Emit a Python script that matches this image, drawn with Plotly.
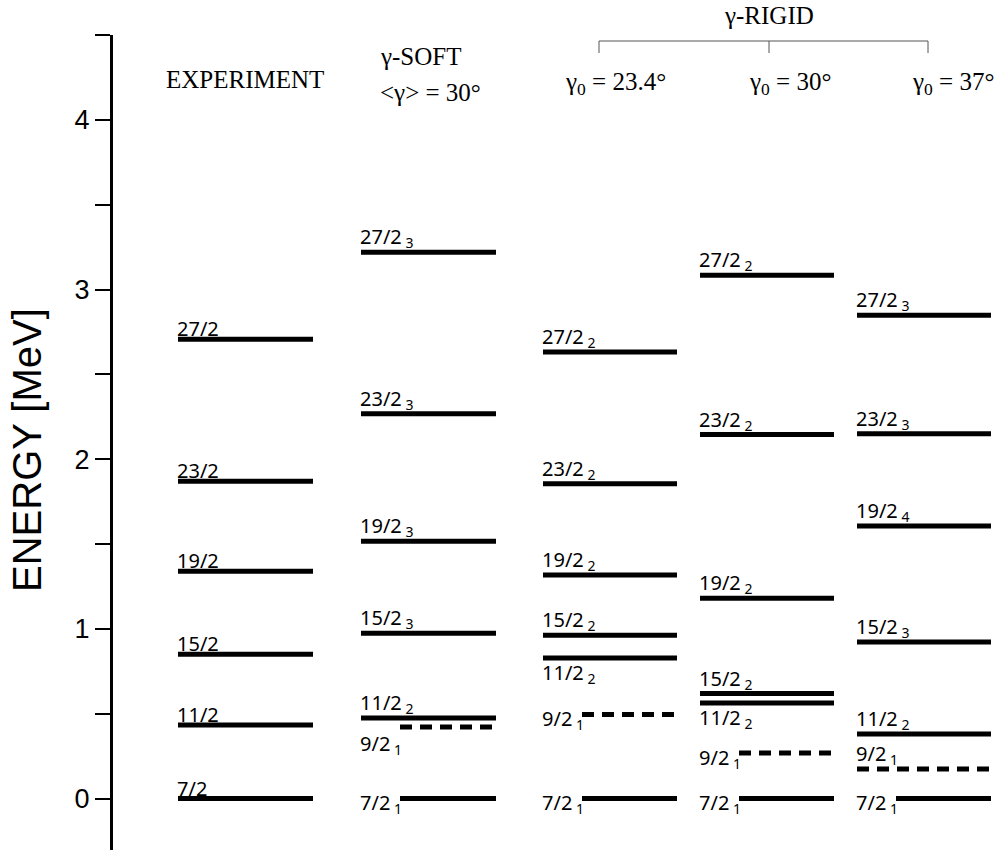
import plotly.graph_objects as go

# ---------------- data ----------------
level_labels = ["7/2", "9/2", "11/2", "15/2", "19/2", "23/2", "27/2"]

exp_labels = ["7/2", "11/2", "15/2", "19/2", "23/2", "27/2"]
exp_E = [0.0, 0.433, 0.851, 1.340, 1.870, 2.708]

soft_sub = ["1", "1", "2", "3", "3", "3", "3"]
soft_E = [0.0, 0.421, 0.474, 0.975, 1.517, 2.269, 3.220]

r234_sub = ["1", "1", "2", "2", "2", "2", "2"]
r234_E = [0.0, 0.495, 0.828, 0.963, 1.317, 1.856, 2.633]

r30_sub = ["1", "1", "2", "2", "2", "2", "2"]
r30_E = [0.0, 0.268, 0.563, 0.619, 1.181, 2.146, 3.085]

r37_sub = ["1", "1", "2", "3", "4", "3", "3"]
r37_E = [0.0, 0.174, 0.380, 0.922, 1.606, 2.151, 2.849]

dashed_levels = ["9/2"]

y_ticks = [0, 0.5, 1, 1.5, 2, 2.5, 3, 3.5, 4, 4.5]
y_ticktext = ["0", "", "1", "", "2", "", "3", "", "4", ""]

# ---------------- layout helpers (pixel-like x axis) ----------------
PX_PER_MEV = 169.7
Y0_PX = 798.5
TOP_PX, BOT_PX = 35, 850
def e_of(px):
    return (Y0_PX - px) / PX_PER_MEV
def paper_y(px):
    return (BOT_PX - px) / (BOT_PX - TOP_PX)
def paper_x(px):
    return (px - 113) / (996 - 113)

col_x = {"EXP": (178, 313), "SOFT": (361, 496), "R234": (543, 677),
         "R30": (700, 834), "R37": (857, 991)}

place = {
    "SOFT": {"7/2": "inline", "9/2": "below_inline"},
    "R234": {"7/2": "inline", "9/2": "inline", "11/2": "below"},
    "R30": {"7/2": "inline", "9/2": "inline", "11/2": "below"},
    "R37": {"7/2": "inline"},
}
INLINE_GAP = 39
LABEL_FONT = dict(family="Noto Sans, DejaVu Sans", size=20, color="black")

fig = go.Figure()
annotations = []

def add_column(key, labels, energies, subs):
    x0, x1 = col_x[key]
    sx, sy, dx, dy = [], [], [], []
    for i, (lab, e) in enumerate(zip(labels, energies)):
        p = place.get(key, {}).get(lab, "above")
        lx0 = x0 + INLINE_GAP if p in ("inline", "below_inline") else x0
        if lab in dashed_levels:
            dx += [lx0, x1, None]; dy += [e, e, None]
        else:
            sx += [lx0, x1, None]; sy += [e, e, None]
        text = lab if subs is None else f"{lab}<sub> {subs[i]}</sub>"
        if p == "above":
            ann = dict(yanchor="bottom", yshift=(-4 if subs is None else -1))
        elif p == "below":
            ann = dict(yanchor="top", yshift=0)
        elif p == "inline":
            ann = dict(yanchor="middle", yshift=-5)
        else:  # below_inline
            ann = dict(yanchor="top", yshift=-2)
        annotations.append(dict(x=x0 - 2, y=e, xref="x", yref="y", text=text,
                                showarrow=False, xanchor="left", font=LABEL_FONT,
                                borderpad=0, **ann))
    if sx:
        fig.add_trace(go.Scatter(x=sx, y=sy, mode="lines", hoverinfo="skip",
                                 line=dict(color="black", width=5), showlegend=False))
    if dx:
        fig.add_trace(go.Scatter(x=dx, y=dy, mode="lines", hoverinfo="skip",
                                 line=dict(color="black", width=5, dash="12px,8px"),
                                 showlegend=False))

add_column("EXP", exp_labels, exp_E, None)
add_column("SOFT", level_labels, soft_E, soft_sub)
add_column("R234", level_labels, r234_E, r234_sub)
add_column("R30", level_labels, r30_E, r30_sub)
add_column("R37", level_labels, r37_E, r37_sub)

SERIF = dict(family="Liberation Serif, Times New Roman", size=25, color="black")
headers = [
    ("EXPERIMENT", 245, 79, "center"),
    ("γ-SOFT", 378, 57, "left"),
    ("&lt;γ&gt; = 30°", 378, 92, "left"),
    ("γ-RIGID", 769, 16, "center"),
    ("γ<sub>0</sub> = 23.4°", 563, 84, "left"),
    ("γ<sub>0</sub> = 30°", 747, 84, "left"),
    ("γ<sub>0</sub> = 37°", 910, 84, "left"),
]
for t, x, ypx, xa in headers:
    annotations.append(dict(x=x, y=paper_y(ypx), xref="x", yref="paper", text=t,
                            showarrow=False, xanchor=xa, yanchor="middle", font=SERIF))

annotations.append(dict(x=paper_x(27), y=paper_y(450), xref="paper", yref="paper",
                        text="ENERGY [MeV]", showarrow=False, textangle=-90,
                        xanchor="center", yanchor="middle",
                        font=dict(family="Liberation Sans, Arial", size=40, color="black")))

# bracket for gamma-rigid
br = dict(color="#555555", width=1)
shapes = [
    dict(type="line", xref="x", yref="paper", x0=599, x1=928, y0=paper_y(41), y1=paper_y(41), line=br),
    dict(type="line", xref="x", yref="paper", x0=599, x1=599, y0=paper_y(41), y1=paper_y(53), line=br),
    dict(type="line", xref="x", yref="paper", x0=769, x1=769, y0=paper_y(41), y1=paper_y(53), line=br),
    dict(type="line", xref="x", yref="paper", x0=928, x1=928, y0=paper_y(41), y1=paper_y(53), line=br),
]

fig.update_layout(
    width=996, height=850,
    margin=dict(l=113, r=0, t=TOP_PX, b=0),
    paper_bgcolor="white", plot_bgcolor="white",
    annotations=annotations, shapes=shapes,
    xaxis=dict(range=[113, 996], visible=False, fixedrange=True),
    yaxis=dict(range=[e_of(BOT_PX), e_of(TOP_PX) + 0.002], showgrid=False, zeroline=False,
               showline=True, linecolor="black", linewidth=3,
               ticks="outside", ticklen=15, tickwidth=2, tickcolor="black",
               tickvals=y_ticks, ticktext=y_ticktext,
               tickfont=dict(family="Liberation Sans, Arial", size=27, color="black"),
               fixedrange=True),
)

fig.write_html("out.html")
